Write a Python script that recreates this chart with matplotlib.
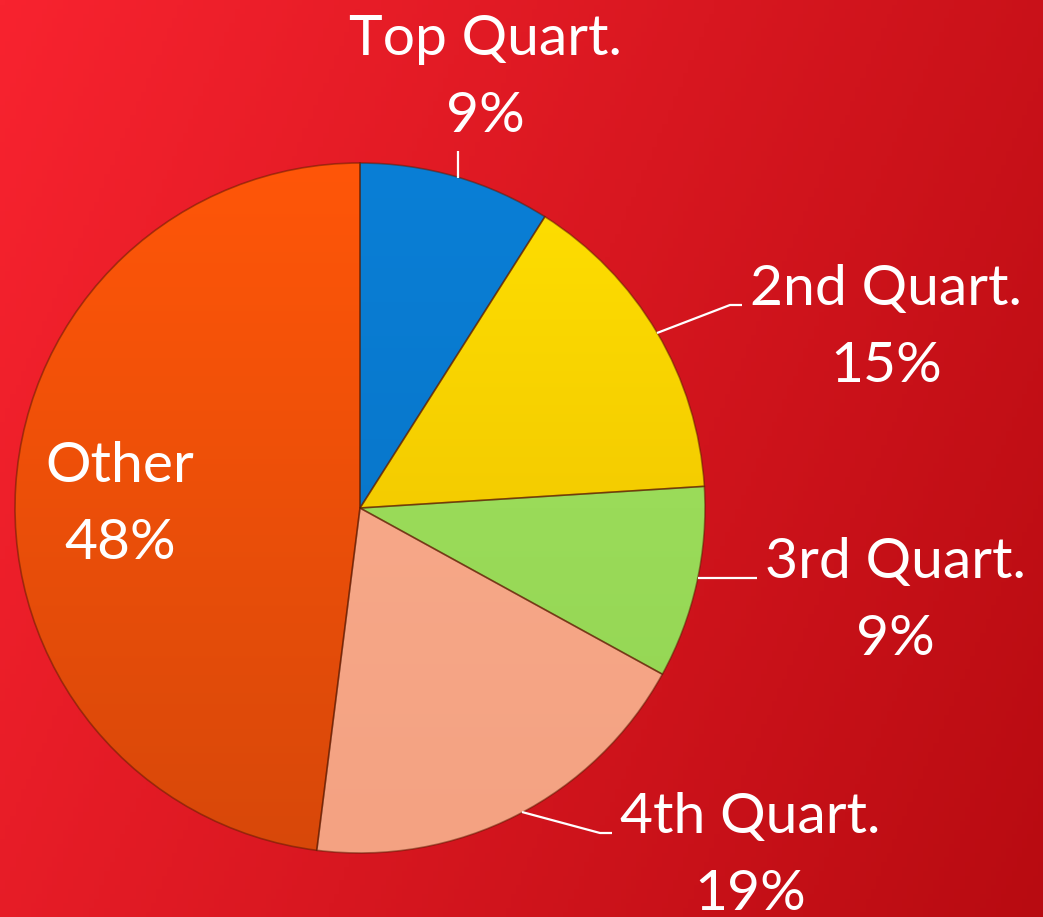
import numpy as np
import matplotlib
matplotlib.use("Agg")
import matplotlib.pyplot as plt
from matplotlib.colors import to_rgb

# ---- data ----
categories = ["Top Quart.", "2nd Quart.", "3rd Quart.", "4th Quart.", "Other"]
values = [9, 15, 9, 19, 48]
pct_labels = ["9%", "15%", "9%", "19%", "48%"]
colors_top = ["#0A7FD6", "#FFE000", "#A2E260", "#F9AD8E", "#FF5608"]
colors_bot = ["#0670C2", "#E9B800", "#92D452", "#F4A282", "#D8480A"]

W, H = 1043, 917
fig = plt.figure(figsize=(W / 100, H / 100), dpi=100)
ax = fig.add_axes([0, 0, 1, 1])

# background gradient (row 0 = top of picture)
xx, yy = np.meshgrid(np.linspace(0, 1, 200), np.linspace(0, 1, 200))
t = np.clip(0.8 * xx + 0.3 * yy, 0, 1.1) / 1.1
c0 = np.array(to_rgb("#F8232F"))
c1 = np.array(to_rgb("#B80B11"))
bg = c0[None, None, :] * (1 - t[..., None]) + c1[None, None, :] * t[..., None]
ax.imshow(bg, extent=[0, W, 0, H], origin="upper", zorder=0, aspect="auto")

cx, cy, R = 360, H - 508, 345
wedges, _ = ax.pie(values, center=(cx, cy), radius=R, startangle=90,
                   counterclock=False, colors=colors_top,
                   wedgeprops=dict(linewidth=1.2, edgecolor=(0.35, 0.1, 0.0, 0.5)),
                   frame=True)

# gradient fill inside each wedge
gy = np.linspace(0, 1, 256)[:, None]
for w, ct, cb in zip(wedges, colors_top, colors_bot):
    a = np.array(to_rgb(ct)); b = np.array(to_rgb(cb))
    img = a[None, None, :] * (1 - gy[..., None]) + b[None, None, :] * gy[..., None]
    img = np.repeat(img, 2, axis=1)
    im = ax.imshow(img, extent=[cx - R, cx + R, cy - R, cy + R], origin="upper",
                   zorder=w.get_zorder() + 0.1, aspect="auto")
    im.set_clip_path(w)
    w.set_facecolor("none")
    w.set_zorder(w.get_zorder() + 0.2)

ax.set_xlim(0, W)
ax.set_ylim(0, H)
ax.set_aspect("auto")
ax.axis("off")

font = "Lato"
fs = 41
lh = 77
# label positions (centre x, baseline y of first line, in image pixels)
label_pos = [(485, 55), (886, 305), (895, 578), (750, 833), (120, 482)]
for cat, pct, (lx, ly) in zip(categories, pct_labels, label_pos):
    ax.text(lx, H - ly, cat, ha="center", va="baseline", fontsize=fs,
            color="white", family=font, zorder=10)
    ax.text(lx, H - ly - lh, pct, ha="center", va="baseline", fontsize=fs,
            color="white", family=font, zorder=10)

# leader lines
leaders = [
    [(458, 178), (458, 151)],
    [(657, 333), (730, 305), (742, 305)],
    [(698, 578), (757, 578)],
    [(522, 812), (600, 833), (612, 833)],
]
for pts in leaders:
    xs = [p[0] for p in pts]
    ys = [H - p[1] for p in pts]
    ax.plot(xs, ys, color="white", lw=1.6, zorder=9, solid_capstyle="butt")

fig.savefig("out.png", dpi=100)
